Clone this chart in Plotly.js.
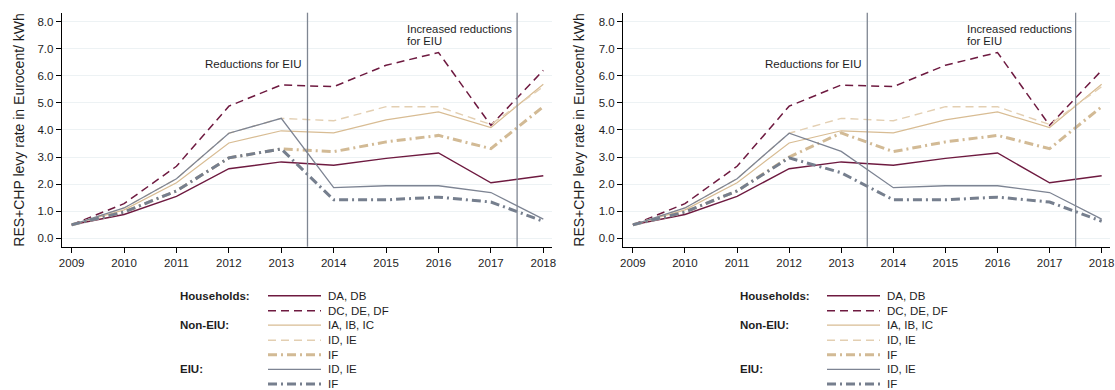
<!DOCTYPE html>
<html>
<head>
<meta charset="utf-8">
<script src="https://cdn.plot.ly/plotly-3.0.1.min.js"></script>
<style>html,body{margin:0;padding:0;background:#fff;}#chart{width:1115px;height:390px;}</style>
</head>
<body>
<div id="chart"></div>
<script>
// ---------- data ----------
const years = [2009, 2010, 2011, 2012, 2013, 2014, 2015, 2016, 2017, 2018];

// Households (identical in both panels)
const hhDADB   = [0.50, 0.88, 1.55, 2.57, 2.82, 2.70, 2.95, 3.15, 2.05, 2.31];
const hhDCDEDF = [0.50, 1.28, 2.66, 4.88, 5.66, 5.60, 6.39, 6.86, 4.17, 6.20];

// Non-EIU
const nonIAIBIC = [0.50, 1.05, 2.05, 3.52, 3.97, 3.89, 4.37, 4.67, 4.09, 5.69];
const nonIDIE   = [0.50, 1.12, 2.20, 3.88, 4.43, 4.34, 4.86, 4.86, 4.20, 5.60];
const nonIF_A   = [0.50, 0.97, 1.75, 2.97, 3.30, 3.20, 3.56, 3.80, 3.31, 4.86];
const nonIF_B   = [0.50, 0.97, 1.75, 3.00, 3.89, 3.20, 3.56, 3.80, 3.31, 4.86];

// EIU
const eiuIDIE_A = [0.50, 1.12, 2.20, 3.88, 4.43, 1.87, 1.94, 1.94, 1.69, 0.71];
const eiuIF_A   = [0.50, 0.97, 1.75, 2.97, 3.30, 1.42, 1.42, 1.52, 1.34, 0.63];
const eiuIDIE_B = [0.50, 1.12, 2.20, 3.88, 3.21, 1.87, 1.94, 1.94, 1.69, 0.71];
const eiuIF_B   = [0.50, 0.97, 1.75, 2.97, 2.42, 1.42, 1.42, 1.52, 1.34, 0.63];

const legendGroups = ["Households:", "", "Non-EIU:", "", "", "EIU:", ""];
const legendLabels = ["DA, DB", "DC, DE, DF", "IA, IB, IC", "ID, IE", "IF", "ID, IE", "IF"];
const yTitle = "RES+CHP levy rate in Eurocent/ kWh";
const noteA = "Reductions for EIU";
const noteB1 = "Increased reductions";
const noteB2 = "for EIU";

// ---------- styles ----------
const MAROON = "#6e1a40";
const TAN = "#d8bc93";
const TAN_L = "#e3cfb2";
const TAN_IF = "#d2ba95";
const GRAY = "#7d8493";
const GRAY_IF = "#767f8e";
const styles = [
  {color: MAROON, width: 1.4, dash: "solid"},
  {color: MAROON, width: 1.5, dash: "8px,5px"},
  {color: TAN, width: 1.2, dash: "solid"},
  {color: TAN_L, width: 1.4, dash: "8px,5px"},
  {color: TAN_IF, width: 3, dash: "9px,4px,2px,4px"},
  {color: GRAY, width: 1.3, dash: "solid"},
  {color: GRAY_IF, width: 3, dash: "9px,4px,2px,4px"}
];

const panelA = [hhDADB, hhDCDEDF, nonIAIBIC, nonIDIE, nonIF_A, eiuIDIE_A, eiuIF_A];
const panelB = [hhDADB, hhDCDEDF, nonIAIBIC, nonIDIE, nonIF_B, eiuIDIE_B, eiuIF_B];

const traces = [];
[[panelA, "x", "y"], [panelB, "x2", "y2"]].forEach(([series, xa, ya]) => {
  series.forEach((vals, i) => {
    traces.push({
      type: "scatter", mode: "lines", x: years, y: vals, xaxis: xa, yaxis: ya,
      line: {color: styles[i].color, width: styles[i].width, dash: styles[i].dash},
      showlegend: false, hoverinfo: "x+y"
    });
  });
});

const FONT = "Liberation Sans, Arial, sans-serif";
const TXT = "#1e1e1e";
const xRange = [2008.81, 2018.16];
const yRange = [-0.31, 8.33];
const yDom = [1 - 246.7 / 390, 1 - 12.7 / 390];

function xAxis(domain, anchor) {
  return {
    domain: domain, anchor: anchor, range: xRange, tickmode: "array", tickvals: years,
    ticktext: years.map(String), ticks: "outside", ticklen: 5, tickcolor: "#000",
    showline: true, linecolor: "#000", linewidth: 1, showgrid: false, zeroline: false,
    tickfont: {family: FONT, size: 11.5, color: TXT}, fixedrange: true
  };
}
function yAxis(anchor) {
  return {
    domain: yDom, anchor: anchor, range: yRange, tickmode: "linear", tick0: 0, dtick: 1,
    tickformat: ".1f", ticks: "outside", ticklen: 5, tickcolor: "#000",
    showline: true, linecolor: "#000", linewidth: 1, showgrid: true,
    gridcolor: "#edf2f4", gridwidth: 1, zeroline: false,
    tickfont: {family: FONT, size: 11.5, color: TXT}, fixedrange: true
  };
}

const shapes = [];
const annotations = [];

// vertical reference lines and notes
[["x", "y", 2015.36], ["x2", "y2", 2015.37]].forEach(([xa, ya, nx]) => {
  [2013.5, 2017.5].forEach(v => {
    shapes.push({type: "line", xref: xa, yref: ya + " domain", x0: v, x1: v, y0: 0, y1: 1,
      line: {color: "#7f8692", width: 1.3}});
  });
  annotations.push({xref: xa, yref: ya, x: 2013.5, y: 6.45, xanchor: "right", yanchor: "middle",
    xshift: -3, text: noteA, showarrow: false, font: {family: FONT, size: 11.5, color: TXT}});
  annotations.push({xref: xa, yref: ya, x: nx, y: 7.72, xanchor: "left", yanchor: "middle",
    text: noteB1, showarrow: false, font: {family: FONT, size: 11.3, color: TXT}});
  annotations.push({xref: xa, yref: ya, x: nx, y: 7.30, xanchor: "left", yanchor: "middle",
    text: noteB2, showarrow: false, font: {family: FONT, size: 11.3, color: TXT}});
});

// y titles
[19, 579].forEach(px => {
  annotations.push({xref: "paper", yref: "paper", x: px / 1115, y: (yDom[0] + yDom[1]) / 2,
    xanchor: "center", yanchor: "middle", textangle: -90, text: yTitle, showarrow: false,
    font: {family: FONT, size: 14, color: TXT}});
});

// manual legends
const rowY = [295.7, 310.7, 325.2, 340.2, 354.7, 369.3, 384.0];
[{grp: 177.5, l0: 268, l1: 321, txt: 325.5}, {grp: 738, l0: 827, l1: 880, txt: 885}].forEach(L => {
  rowY.forEach((ry, i) => {
    const yp = 1 - ry / 390;
    shapes.push({type: "line", xref: "paper", yref: "paper", x0: L.l0 / 1115, x1: L.l1 / 1115,
      y0: yp, y1: yp, line: {color: styles[i].color, width: styles[i].width, dash: styles[i].dash}});
    annotations.push({xref: "paper", yref: "paper", x: L.txt / 1115, y: yp, xanchor: "left",
      yanchor: "middle", text: legendLabels[i], showarrow: false,
      font: {family: FONT, size: 11.5, color: TXT}});
    if (legendGroups[i]) {
      annotations.push({xref: "paper", yref: "paper", x: L.grp / 1115, y: yp, xanchor: "left",
        yanchor: "middle", text: "<b>" + legendGroups[i] + "</b>", showarrow: false,
        font: {family: FONT, size: 11.5, color: TXT}});
    }
  });
});

const layout = {
  width: 1115, height: 390,
  margin: {l: 0, r: 0, t: 0, b: 0},
  paper_bgcolor: "#fff", plot_bgcolor: "#fff",
  showlegend: false,
  font: {family: FONT, size: 11.5, color: TXT},
  xaxis: xAxis([61.7 / 1115, 551.7 / 1115], "y"),
  yaxis: yAxis("x"),
  xaxis2: xAxis([623 / 1115, 1110 / 1115], "y2"),
  yaxis2: yAxis("x2"),
  shapes: shapes,
  annotations: annotations
};

Plotly.newPlot("chart", traces, layout, {displayModeBar: false, staticPlot: true});
</script>
</body>
</html>
